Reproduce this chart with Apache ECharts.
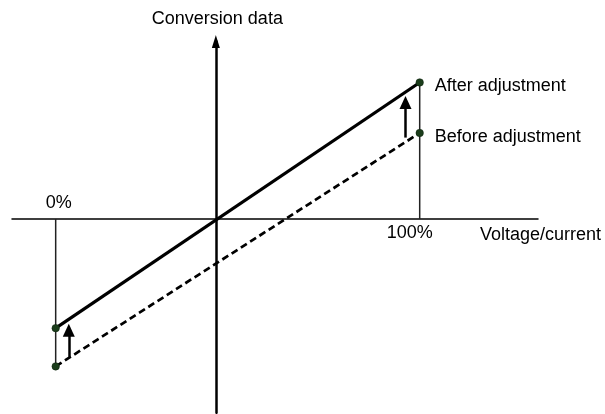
<!DOCTYPE html>
<html>
<head>
<meta charset="utf-8">
<script src="https://cdn.jsdelivr.net/npm/echarts@6/dist/echarts.min.js"></script>
<style>
html, body { margin: 0; padding: 0; background: #fff; }
#chart { width: 605px; height: 414px; }
</style>
</head>
<body>
<div id="chart"></div>
<script>
// Input span, in percent of full scale
const inputPercent = [0, 100];
// Input level (percent) where the adjusted conversion data crosses zero
const zeroCrossPercent = 44;
// Conversion data at 0 % and at 100 % input
const afterAdjustment = [-4, 5];
const beforeAdjustment = [-5.4, 3.15];
// Adjustment arrows: input percent, start value, end value
const arrowInput = [3.6, 96.1];
const arrowFrom = [-5.05, 2.98];
const arrowTo = [-4.08, 4.27];
// Texts
const inputLabels = ['0%', '100%'];
const seriesNames = ['After adjustment', 'Before adjustment'];
const axisNames = ['Voltage/current', 'Conversion data'];

const FONT = '"Liberation Sans", Helvetica, Arial, sans-serif';
const FONT_SIZE = 18;
const DOT = '#1b3d1b';

// x positions are measured from the zero crossing so the vertical axis sits at 0
const xs = inputPercent.map(p => p - zeroCrossPercent);

function endLabel(text) {
  return {
    show: true, position: 'right', distance: 11, offset: [0, 4],
    formatter: text, color: '#000', fontFamily: FONT, fontSize: FONT_SIZE
  };
}

function adjustLine(values, name, lineType, width) {
  return {
    type: 'line', name: name, z: 3,
    symbol: 'circle', symbolSize: 7.5,
    itemStyle: { color: DOT, borderColor: '#0a1f0a', borderWidth: 0.5 },
    lineStyle: { color: '#000', width: width, type: lineType },
    label: { show: false },
    emphasis: { disabled: true },
    data: [
      [xs[0], values[0]],
      { value: [xs[1], values[1]], label: endLabel(name) }
    ]
  };
}

function guideLine(points) {
  return {
    type: 'line', z: 2, symbol: 'none', silent: true,
    lineStyle: { color: '#222', width: 1.5 },
    data: points
  };
}

function scaleLabel(text, offset) {
  return {
    show: true, position: 'inside', offset: offset, formatter: text,
    color: '#000', opacity: 1, fontFamily: FONT, fontSize: FONT_SIZE
  };
}

const option = {
  animation: false,
  backgroundColor: '#fff',
  grid: { left: 12, right: 67, top: 41.5, bottom: 1.2 },
  xAxis: {
    type: 'value', min: -56, max: 88.5,
    name: axisNames[0], nameLocation: 'end', nameGap: 63,
    nameTextStyle: {
      align: 'right', verticalAlign: 'top', padding: [7, 0, 0, 0],
      color: '#000', fontFamily: FONT, fontSize: FONT_SIZE
    },
    axisLine: { onZero: true, lineStyle: { color: '#000', width: 1.5 } },
    axisTick: { show: false }, axisLabel: { show: false }, splitLine: { show: false }
  },
  yAxis: {
    type: 'value', min: -7.1, max: 6.5,
    name: axisNames[1], nameLocation: 'end', nameGap: 13,
    nameTextStyle: { color: '#000', fontFamily: FONT, fontSize: FONT_SIZE, padding: [0, 0, 0, 3] },
    axisLine: {
      onZero: true, symbol: ['none', 'triangle'], symbolSize: [8, 13],
      lineStyle: { color: '#000', width: 2.5 }
    },
    axisTick: { show: false }, axisLabel: { show: false }, splitLine: { show: false }
  },
  series: [
    // vertical guides at 0 % and 100 % input
    guideLine([[xs[0], 0], [xs[0], beforeAdjustment[0]]]),
    guideLine([[xs[1], afterAdjustment[1]], [xs[1], 0]]),
    adjustLine(beforeAdjustment, seriesNames[1], [7, 4], 2.7),
    adjustLine(afterAdjustment, seriesNames[0], 'solid', 3.2),
    // input scale labels
    {
      type: 'scatter', symbolSize: 0, silent: true, z: 4,
      itemStyle: { opacity: 1 },
      data: [
        { value: [xs[0], 0], label: scaleLabel(inputLabels[0], [3, -16]) },
        { value: [xs[1], 0], label: scaleLabel(inputLabels[1], [-10, 14]) }
      ]
    },
    // adjustment arrows
    {
      type: 'line', data: [], z: 4,
      markLine: {
        silent: true, animation: false,
        symbol: ['none', 'triangle'], symbolSize: [12, 13],
        label: { show: false },
        lineStyle: { color: '#000', width: 2.5, type: 'solid' },
        emphasis: { disabled: true },
        data: arrowInput.map((p, i) => [
          { coord: [p - zeroCrossPercent, arrowFrom[i]] },
          { coord: [p - zeroCrossPercent, arrowTo[i]] }
        ])
      }
    }
  ]
};

const chart = echarts.init(document.getElementById('chart'), null, { renderer: 'canvas' });
chart.setOption(option);
</script>
</body>
</html>
